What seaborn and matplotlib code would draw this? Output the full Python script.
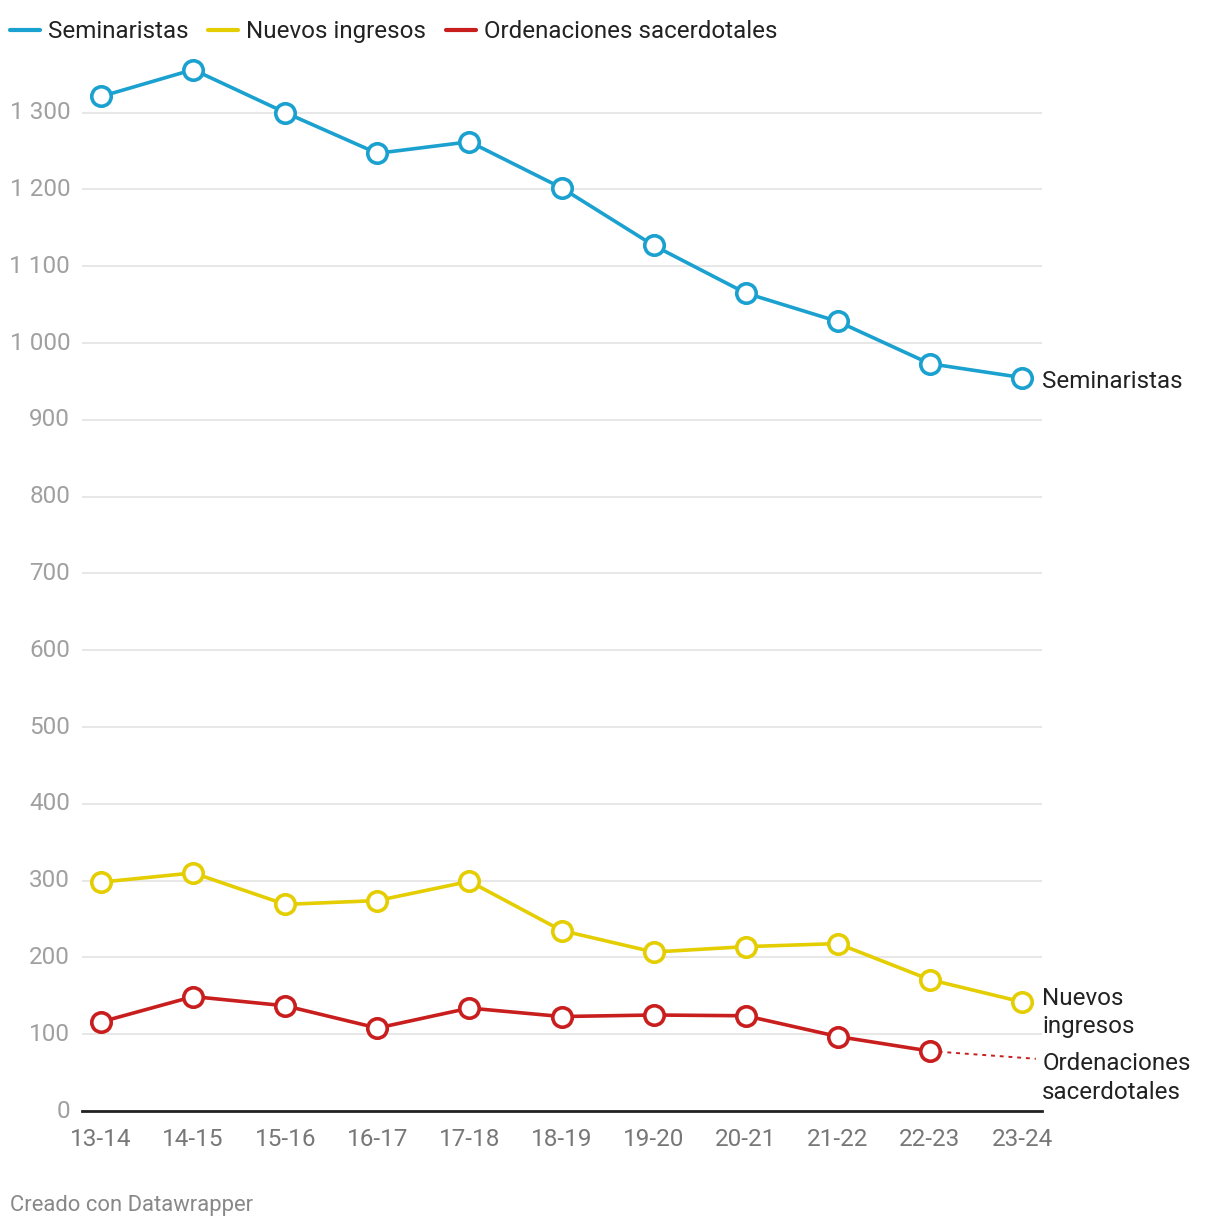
import pandas as pd
import matplotlib.pyplot as plt
import seaborn as sns
from matplotlib.lines import Line2D
import matplotlib.ticker as ticker

# data
cursos = ["13-14", "14-15", "15-16", "16-17", "17-18", "18-19",
          "19-20", "20-21", "21-22", "22-23", "23-24"]
seminaristas = [1321, 1356, 1300, 1247, 1262, 1202, 1127, 1065, 1028, 973, 955]
nuevos_ingresos = [298, 310, 269, 274, 299, 235, 207, 214, 218, 171, 142]
ordenaciones = [116, 149, 137, 108, 134, 123, 125, 124, 97, 78, None]
ordenaciones_last = 68  # end of dotted connector to label

series = {
    "Seminaristas": seminaristas,
    "Nuevos ingresos": nuevos_ingresos,
    "Ordenaciones sacerdotales": ordenaciones,
}
colors = {
    "Seminaristas": "#1aa1cf",
    "Nuevos ingresos": "#e4cd00",
    "Ordenaciones sacerdotales": "#c81e1e",
}

rows = []
for name, vals in series.items():
    for i, v in enumerate(vals):
        rows.append({"serie": name, "pos": i, "curso": cursos[i], "valor": v})
df = pd.DataFrame(rows).dropna()

sns.set_style("white")
plt.rcParams["font.family"] = ["Roboto", "DejaVu Sans"]

fig = plt.figure(figsize=(12.2, 12.28), dpi=100)
ax = fig.add_axes([82 / 1220, 1 - 1111 / 1228, 960 / 1220, (1111 - 55) / 1228])

# dotted connector for the missing last point
ax.plot([9, 10.15], [ordenaciones[9], ordenaciones_last], ls=(0, (2, 2.5)),
        color=colors["Ordenaciones sacerdotales"], lw=1.4, zorder=2)

for name in series:
    sub = df[df["serie"] == name]
    sns.lineplot(data=sub, x="pos", y="valor", ax=ax, color=colors[name],
                 linewidth=2.6, marker="o", markersize=14,
                 markerfacecolor="white", markeredgecolor=colors[name],
                 markeredgewidth=2.6, zorder=3, legend=False)

ax.set_xlim(-0.207, 10.217)
ax.set_ylim(0, 1375)
ax.set_xticks(range(len(cursos)))
ax.set_xticklabels(cursos)
ax.yaxis.set_major_locator(ticker.MultipleLocator(100))
ax.yaxis.set_major_formatter(ticker.FuncFormatter(
    lambda v, p: f"{int(v):,}".replace(",", " ")))
ax.set_xlabel("")
ax.set_ylabel("")
ax.grid(axis="y", color="#e3e3e3", lw=1.2)
ax.grid(axis="x", visible=False)
for s in ["top", "right", "left"]:
    ax.spines[s].set_visible(False)
ax.spines["bottom"].set_color("#222222")
ax.spines["bottom"].set_linewidth(2)
ax.spines["bottom"].set_zorder(4)
ax.tick_params(axis="y", length=0, pad=8.5, labelsize=17.5, labelcolor="#a0a0a0")
ax.tick_params(axis="x", length=0, pad=12.5, labelsize=17.5, labelcolor="#777777")
for lab in ax.get_yticklabels():
    lab.set_verticalalignment("center")

# direct labels on the right
lab_kw = dict(fontsize=17.4, color="#222222", ha="left", va="center",
              transform=ax.transData, clip_on=False)
ax.text(10.22, seminaristas[10] - 5, "Seminaristas", **lab_kw)
ax.text(10.22, 128, "Nuevos\ningresos", linespacing=1.3, **lab_kw)
ax.text(10.22, 43, "Ordenaciones\nsacerdotales", linespacing=1.3, **lab_kw)

# legend
handles = [Line2D([0], [0], color=colors[n], lw=3) for n in series]
fig.legend(handles, list(series.keys()), loc="upper left",
           bbox_to_anchor=(10 / 1220, 1 - 20 / 1228), ncol=3, frameon=False,
           fontsize=17.4, handlelength=1.25, handletextpad=0.33,
           columnspacing=0.8, borderaxespad=0, borderpad=0,
           labelcolor="#222222")

fig.text(10 / 1220, 1 - 1205 / 1228, "Creado con Datawrapper",
         fontsize=15.8, color="#888888", va="center", ha="left")

fig.savefig("out.png", dpi=100, facecolor="white")
